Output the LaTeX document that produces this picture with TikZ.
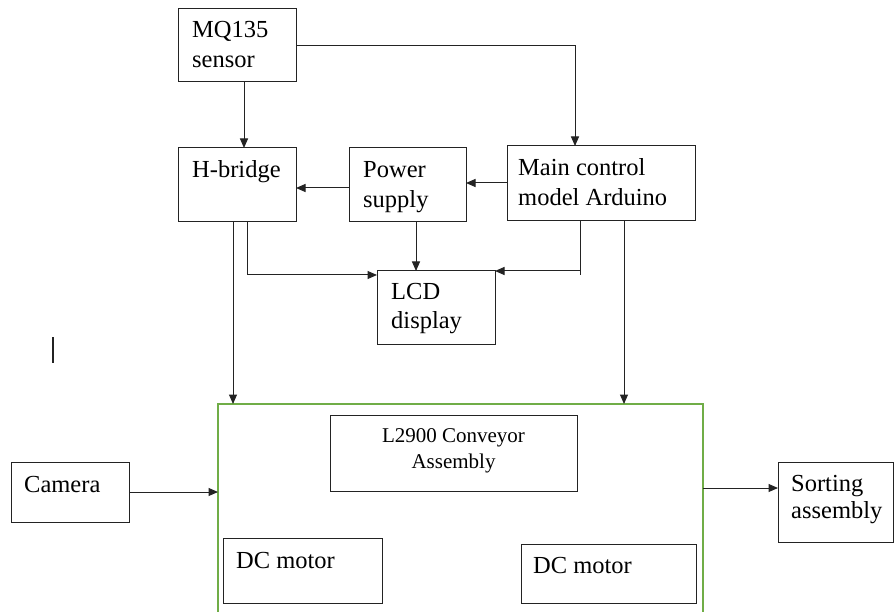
\documentclass[tikz,border=0pt]{standalone}
\usepackage{fontspec}
\setmainfont{Liberation Serif}
\usetikzlibrary{arrows.meta}
\definecolor{conveyor}{RGB}{112,173,71}
\definecolor{ink}{RGB}{35,35,35}
\begin{document}
\begin{tikzpicture}[x=1pt,y=-1pt,
  box/.style={draw=ink, line width=1pt, anchor=north west, inner sep=0pt, outer sep=0pt},
  lbl/.style={anchor=base west, inner sep=0pt, text=black, font=\fontsize{24.5}{30}\selectfont},
  small/.style={anchor=base, inner sep=0pt, text=black, font=\fontsize{21}{26}\selectfont},
  ln/.style={draw=ink, line width=1pt},
  arr/.style={ln, -{Triangle[length=9.5pt,width=8pt]}}]
\useasboundingbox (0,0) rectangle (894,612);
\clip (0,0) rectangle (894,612);
\fill[white] (0,0) rectangle (894,612);
% boxes
\node[box, minimum width=118pt, minimum height=73pt] (mq) at (178,9) {};
\node[box, minimum width=118pt, minimum height=74pt] (hb) at (178,148) {};
\node[box, minimum width=117pt, minimum height=74pt] (ps) at (349,148) {};
\node[box, minimum width=188pt, minimum height=75pt] (mc) at (507,146) {};
\node[box, minimum width=118pt, minimum height=73pt] (lcd) at (377,271) {};
\node[box, minimum width=118pt, minimum height=60pt] (cam) at (11,462) {};
\node[box, draw=conveyor, line width=1.8pt, minimum width=485pt, minimum height=236pt] (conv) at (218,404) {};
\node[box, minimum width=247pt, minimum height=76pt] (l29) at (330,415) {};
\node[box, minimum width=159pt, minimum height=65pt] (dc1) at (223,538) {};
\node[box, minimum width=175pt, minimum height=59pt] (dc2) at (521,544) {};
\node[box, minimum width=115pt, minimum height=80pt] (sort) at (778,462) {};
% texts
\node[lbl] (tmq1) at (192,38) {MQ135};
\node[lbl] (tmq2) at (192,68) {sensor};
\node[lbl] (thb) at (192,178) {H-bridge};
\node[lbl] (tps1) at (363,178) {Power};
\node[lbl] (tps2) at (363,208) {supply};
\node[lbl] (tmc1) at (518,176) {Main control};
\node[lbl] (tmc2) at (518,206) {model Arduino};
\node[lbl] (tlcd1) at (391,299) {LCD};
\node[lbl] (tlcd2) at (391,328) {display};
\node[lbl] (tcam) at (24,492) {Camera};
\node[small] (tl1) at (453.5,442) {L2900 Conveyor};
\node[small] (tl2) at (453.5,468) {Assembly};
\node[lbl] (tdc1) at (236,568) {DC motor};
\node[lbl] (tdc2) at (533,573) {DC motor};
\node[lbl] (ts1) at (791,491) {Sorting};
\node[lbl] (ts2) at (791,518) {assembly};
% connectors
\draw[arr] (mq.east) -| ([xshift=68pt]mc.north west);
\draw[arr] ([xshift=66pt]mq.south west) -- ([xshift=66pt]hb.north west);
\draw[arr] ([yshift=-40pt]ps.north west) coordinate (a1) -- (a1 -| hb.east);
\draw[arr] ([yshift=-37pt]mc.north west) coordinate (a2) -- (a2 -| ps.east);
\draw[arr] ([xshift=55pt]hb.south west) -- ([xshift=15pt]conv.north west);
\draw[arr] ([xshift=69pt]hb.south west) |- ([yshift=-4pt]lcd.north west);
\draw[arr] ([xshift=67pt]ps.south west) -- ([xshift=39pt]lcd.north west);
\draw[arr] ([xshift=73pt]mc.south west) |- (lcd.north east);
\draw[ln] ([xshift=73pt]mc.south west) -- ([xshift=73pt,yshift=-54pt]mc.south west);
\draw[arr] ([xshift=117pt]mc.south west) -- ([xshift=406pt]conv.north west);
\draw[arr] (cam.east) -- (cam.east -| conv.west);
\draw[arr] ([yshift=-84pt]conv.north east) coordinate (a3) -- (a3 -| sort.west);
% stray mark
\draw[ink, line width=1.5pt] (53,337) -- (53,363);
\end{tikzpicture}
\end{document}
